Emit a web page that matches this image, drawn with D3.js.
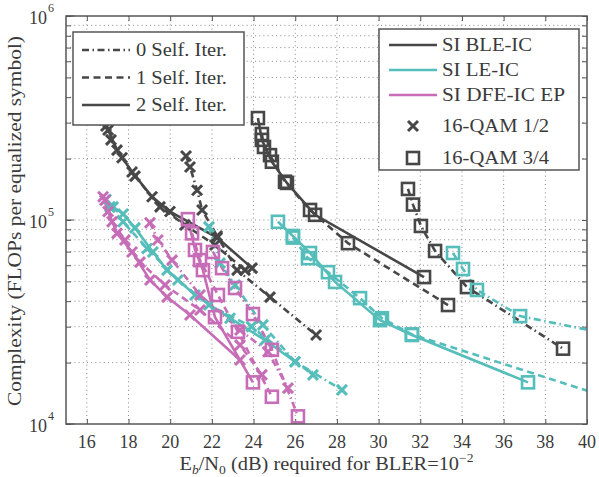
<!DOCTYPE html>
<html><head><meta charset="utf-8">
<script src="https://cdn.jsdelivr.net/npm/d3@7"></script>
<style>
body{margin:0;background:#fff}
svg{display:block}
text{font-family:"Liberation Serif","DejaVu Serif",serif;fill:#3a3a3a}
</style>
</head><body><svg id="c" width="599" height="477"></svg>
<script>
// ---- data ----
const xTicks = [16,18,20,22,24,26,28,30,32,34,36,38,40];
const yMajor = [1e4,1e5,1e6];
const yTickLabels = ["4","5","6"];
const algos = ["SI BLE-IC","SI LE-IC","SI DFE-IC EP"];
const algoColors = ["#474747","#55bdba","#c76cb6"];
const iterLabels = ["0 Self. Iter.","1 Self. Iter.","2 Self. Iter."];
const modLabels = ["16-QAM 1/2","16-QAM 3/4"];

// BLE-IC, 16-QAM 1/2 (x markers)
const ble12_it0 = [[20.76,2.06e5],[20.95,1.82e5],[21.29,1.40e5],[21.53,1.12e5],[22.25,8.35e4],[23.21,5.68e4],[24.79,4.19e4],[27.0,2.73e4]];
const ble12_it1 = [[16.92,2.89e5],[17.16,2.47e5],[17.69,2.02e5],[18.31,1.64e5],[19.51,1.16e5],[20.71,9.45e4],[22.15,7.54e4],[23.59,5.68e4]];
const ble12_it2 = [[16.82,3.09e5],[17.02,2.76e5],[17.45,2.20e5],[18.17,1.72e5],[19.13,1.30e5],[19.99,1.10e5],[22.25,8.2e4],[23.93,5.81e4]];
// BLE-IC, 16-QAM 3/4 (square markers)
const ble34_it0 = [[31.41,1.42e5],[31.65,1.19e5],[32.03,9.35e4],[32.71,7.05e4],[34.24,4.69e4],[38.85,2.34e4]];
const ble34_it1 = [[24.40,2.64e5],[24.50,2.28e5],[24.79,2.08e5],[25.51,1.54e5],[26.71,1.12e5],[28.53,7.7e4],[33.33,3.83e4]];
const ble34_it2 = [[24.21,3.16e5],[24.40,2.47e5],[24.88,1.93e5],[25.60,1.52e5],[26.95,1.06e5],[32.18,5.25e4]];
// LE-IC, 16-QAM 1/2
const le12_it0 = [[21.86,9.25e4],[22.39,6.15e4],[23.11,4.8e4],[24.45,3.06e4],[25.99,2.02e4],[28.24,1.47e4]];
const le12_it1 = [[17.11,1.16e5],[17.74,9.8e4],[18.89,7.25e4],[20.37,5.08e4],[21.86,3.83e4],[23.9,3.0e4],[26.85,1.74e4]];
const le12_it2 = [[16.92,1.26e5],[17.26,1.16e5],[17.74,1.07e5],[18.31,9.15e4],[19.17,6.97e4],[19.85,5.68e4],[21.19,4.29e4],[22.87,3.30e4],[24.55,2.58e4],[25.99,2.02e4]];
// LE-IC, 16-QAM 3/4
const le34_it0 = [[33.57,6.89e4],[34.05,5.75e4],[34.72,4.54e4],[36.79,3.38e4],[40.0,2.9e4]];
const le34_it1 = [[25.89,8.2e4],[26.61,6.5e4],[27.57,5.55e4],[29.11,4.14e4],[30.16,3.3e4],[31.6,2.75e4],[41.5,1.3e4]];
const le34_it2 = [[25.17,9.8e4],[25.89,8.35e4],[26.71,6.89e4],[27.91,4.97e4],[30.07,3.23e4],[31.6,2.73e4],[37.17,1.6e4]];
// DFE-IC EP, 16-QAM 1/2
const dfe12_it0 = [[19.03,9.7e4],[19.41,7.98e4],[20.09,6.36e4],[21.43,4.29e4],[23.35,2.89e4],[24.69,2.26e4],[25.65,1.50e4]];
const dfe12_it1 = [[16.87,1.25e5],[17.21,9.8e4],[17.83,7.98e4],[18.55,6.22e4],[19.75,4.8e4],[21.43,3.62e4],[23.35,2.44e4],[24.40,1.74e4]];
const dfe12_it2 = [[16.78,1.30e5],[17.02,1.10e5],[17.45,8.6e4],[18.17,6.97e4],[19.03,5.08e4],[19.85,4.19e4],[20.95,3.42e4],[23.35,2.06e4]];
// DFE-IC EP, 16-QAM 3/4
const dfe34_it0 = [[22.05,6.97e4],[22.49,5.81e4],[23.11,4.64e4],[23.97,3.46e4],[24.88,2.31e4],[26.13,1.09e4]];
const dfe34_it1 = [[21.05,8.6e4],[21.43,6.36e4],[22.29,4.29e4],[23.25,2.83e4],[24.88,1.36e4]];
const dfe34_it2 = [[20.85,1.01e5],[21.19,7.13e4],[21.57,5.68e4],[22.15,3.34e4],[23.97,1.60e4]];

const seriesList = [
  {a:0,m:0,it:0,d:ble12_it0},{a:0,m:0,it:1,d:ble12_it1},{a:0,m:0,it:2,d:ble12_it2},
  {a:0,m:1,it:0,d:ble34_it0},{a:0,m:1,it:1,d:ble34_it1},{a:0,m:1,it:2,d:ble34_it2},
  {a:1,m:0,it:0,d:le12_it0},{a:1,m:0,it:1,d:le12_it1},{a:1,m:0,it:2,d:le12_it2},
  {a:1,m:1,it:0,d:le34_it0},{a:1,m:1,it:1,d:le34_it1},{a:1,m:1,it:2,d:le34_it2},
  {a:2,m:0,it:0,d:dfe12_it0},{a:2,m:0,it:1,d:dfe12_it1},{a:2,m:0,it:2,d:dfe12_it2},
  {a:2,m:1,it:0,d:dfe34_it0},{a:2,m:1,it:1,d:dfe34_it1},{a:2,m:1,it:2,d:dfe34_it2}
];

// ---- chart ----
const L=66,R=587,T=16,B=424;
const svg=d3.select("#c");
const x=d3.scaleLinear().domain([15,40]).range([L,R]);
const y=d3.scaleLog().domain([1e4,1e6]).range([B,T]);
const dashes=["7,3.5,1.5,3.5","7,4.5",null];
const frame="#555";

svg.append("defs").append("clipPath").attr("id","clip")
  .append("rect").attr("x",L).attr("y",T).attr("width",R-L).attr("height",B-T);

// grid
const minorY=[];
for(let e=4;e<6;e++) for(let k=1;k<10;k++) minorY.push(k*Math.pow(10,e));
minorY.push(1e6);
const g=svg.append("g");
g.selectAll(".gy").data(minorY.filter(v=>v>1e4&&v<1e6)).join("line")
  .attr("x1",L).attr("x2",R).attr("y1",d=>y(d)).attr("y2",d=>y(d))
  .attr("stroke","#8a8a8a").attr("stroke-width",1).attr("stroke-dasharray","1,3.2");
g.selectAll(".gx").data(xTicks.filter(v=>v<40)).join("line")
  .attr("y1",T).attr("y2",B).attr("x1",d=>x(d)).attr("x2",d=>x(d))
  .attr("stroke","#8a8a8a").attr("stroke-width",1).attr("stroke-dasharray","1,3.2");

// axes via d3
const xb=d3.axisBottom(x).tickValues(xTicks).tickSize(-5).tickFormat("");
const xt=d3.axisTop(x).tickValues(xTicks).tickSize(-5).tickFormat("");
const yl=d3.axisLeft(y).tickValues(minorY).tickSize(-5).tickFormat("");
const yr=d3.axisRight(y).tickValues(minorY).tickSize(-5).tickFormat("");
function styleAx(s){s.select(".domain").remove();s.selectAll("line").attr("stroke",frame).attr("stroke-width",1);}
svg.append("g").attr("transform",`translate(0,${B})`).call(xb).call(styleAx);
svg.append("g").attr("transform",`translate(0,${T})`).call(xt).call(styleAx);
svg.append("g").attr("transform",`translate(${L},0)`).call(yl).call(styleAx);
svg.append("g").attr("transform",`translate(${R},0)`).call(yr).call(styleAx);
svg.append("g").selectAll("line").data(yMajor).join("line")
  .attr("x1",L).attr("x2",L+8).attr("y1",d=>y(d)).attr("y2",d=>y(d)).attr("stroke",frame);

// tick labels
svg.append("g").selectAll("text").data(xTicks).join("text")
  .attr("x",d=>x(d)).attr("y",B+24).attr("text-anchor","middle")
  .attr("font-size",18).text(d=>d);
const yl2=svg.append("g");
yMajor.forEach((v,i)=>{
  yl2.append("text").attr("x",47).attr("y",y(v)+8).attr("text-anchor","end").attr("font-size",18).text("10");
  yl2.append("text").attr("x",48).attr("y",y(v)-4).attr("font-size",12).text(yTickLabels[i]);
});

// series
const line=d3.line().x(d=>x(d[0])).y(d=>y(d[1]));
const plot=svg.append("g").attr("clip-path","url(#clip)");
const plotM=svg.append("g");
function drawX(sel,cx,cy,col){
  const s=5;
  sel.append("path").attr("d",`M${cx-s},${cy-s}L${cx+s},${cy+s}M${cx-s},${cy+s}L${cx+s},${cy-s}`)
    .attr("stroke",col).attr("stroke-width",3).attr("fill","none");
}
function drawSq(sel,cx,cy,col){
  sel.append("rect").attr("x",cx-6).attr("y",cy-6).attr("width",12).attr("height",12)
    .attr("stroke",col).attr("stroke-width",2.6).attr("fill","none");
}
seriesList.forEach(s=>{
  const col=algoColors[s.a];
  plot.append("path").datum(s.d).attr("d",line).attr("fill","none")
    .attr("stroke",col).attr("stroke-width",2.6)
    .attr("stroke-dasharray",dashes[s.it]);
  s.d.forEach(p=>{
    if(p[0]>=40) return;
    if(s.m===0) drawX(plotM,x(p[0]),y(p[1]),col); else drawSq(plotM,x(p[0]),y(p[1]),col);
  });
});

// frame
svg.append("rect").attr("x",L).attr("y",T).attr("width",R-L).attr("height",B-T)
  .attr("fill","none").attr("stroke",frame).attr("stroke-width",1.5);

// legend left
const lg1=svg.append("g");
lg1.append("rect").attr("x",73).attr("y",32).attr("width",171).attr("height",93)
  .attr("fill","#fff").attr("stroke",frame).attr("stroke-width",1.5);
iterLabels.forEach((t,i)=>{
  const yy=50+i*27.5;
  lg1.append("line").attr("x1",82).attr("x2",130).attr("y1",yy).attr("y2",yy)
    .attr("stroke","#474747").attr("stroke-width",2.6).attr("stroke-dasharray",dashes[i]);
  lg1.append("text").attr("x",136).attr("y",yy+6).attr("font-size",19)
    .attr("textLength",91).attr("lengthAdjust","spacingAndGlyphs").text(t);
});

// legend right
const lg2=svg.append("g");
lg2.append("rect").attr("x",379).attr("y",29).attr("width",200).attr("height",141)
  .attr("fill","#fff").attr("stroke",frame).attr("stroke-width",1.5);
const algoW=[90,77,123];
algos.forEach((t,i)=>{
  const yy=45+i*25;
  lg2.append("line").attr("x1",389).attr("x2",437).attr("y1",yy).attr("y2",yy)
    .attr("stroke",algoColors[i]).attr("stroke-width",2.6);
  lg2.append("text").attr("x",442).attr("y",yy+6).attr("font-size",19)
    .attr("textLength",algoW[i]).attr("lengthAdjust","spacingAndGlyphs").text(t);
});
drawX(lg2,413,126,"#474747");
lg2.append("text").attr("x",442).attr("y",132).attr("font-size",19)
  .attr("textLength",107).attr("lengthAdjust","spacingAndGlyphs").text(modLabels[0]);
drawSq(lg2,413,158,"#474747");
lg2.append("text").attr("x",442).attr("y",164).attr("font-size",19)
  .attr("textLength",107).attr("lengthAdjust","spacingAndGlyphs").text(modLabels[1]);

// axis titles
const xt2=svg.append("text").attr("x",(L+R)/2).attr("y",470).attr("text-anchor","middle").attr("font-size",18)
  .attr("textLength",294).attr("lengthAdjust","spacingAndGlyphs");
xt2.append("tspan").text("E");
xt2.append("tspan").attr("font-size",12).attr("dy",4).attr("font-style","italic").text("b");
xt2.append("tspan").attr("dy",-4).text("/N");
xt2.append("tspan").attr("font-size",12).attr("dy",4).text("0");
xt2.append("tspan").attr("dy",-4).text(" (dB) required for BLER=10");
xt2.append("tspan").attr("font-size",12).attr("dy",-8).text("−2");
svg.append("text").attr("transform",`translate(21,${(T+B)/2+1}) rotate(-90)`)
  .attr("text-anchor","middle").attr("font-size",18)
  .attr("textLength",370).attr("lengthAdjust","spacingAndGlyphs")
  .text("Complexity (FLOPs per equalized symbol)");
</script>
</body></html>
